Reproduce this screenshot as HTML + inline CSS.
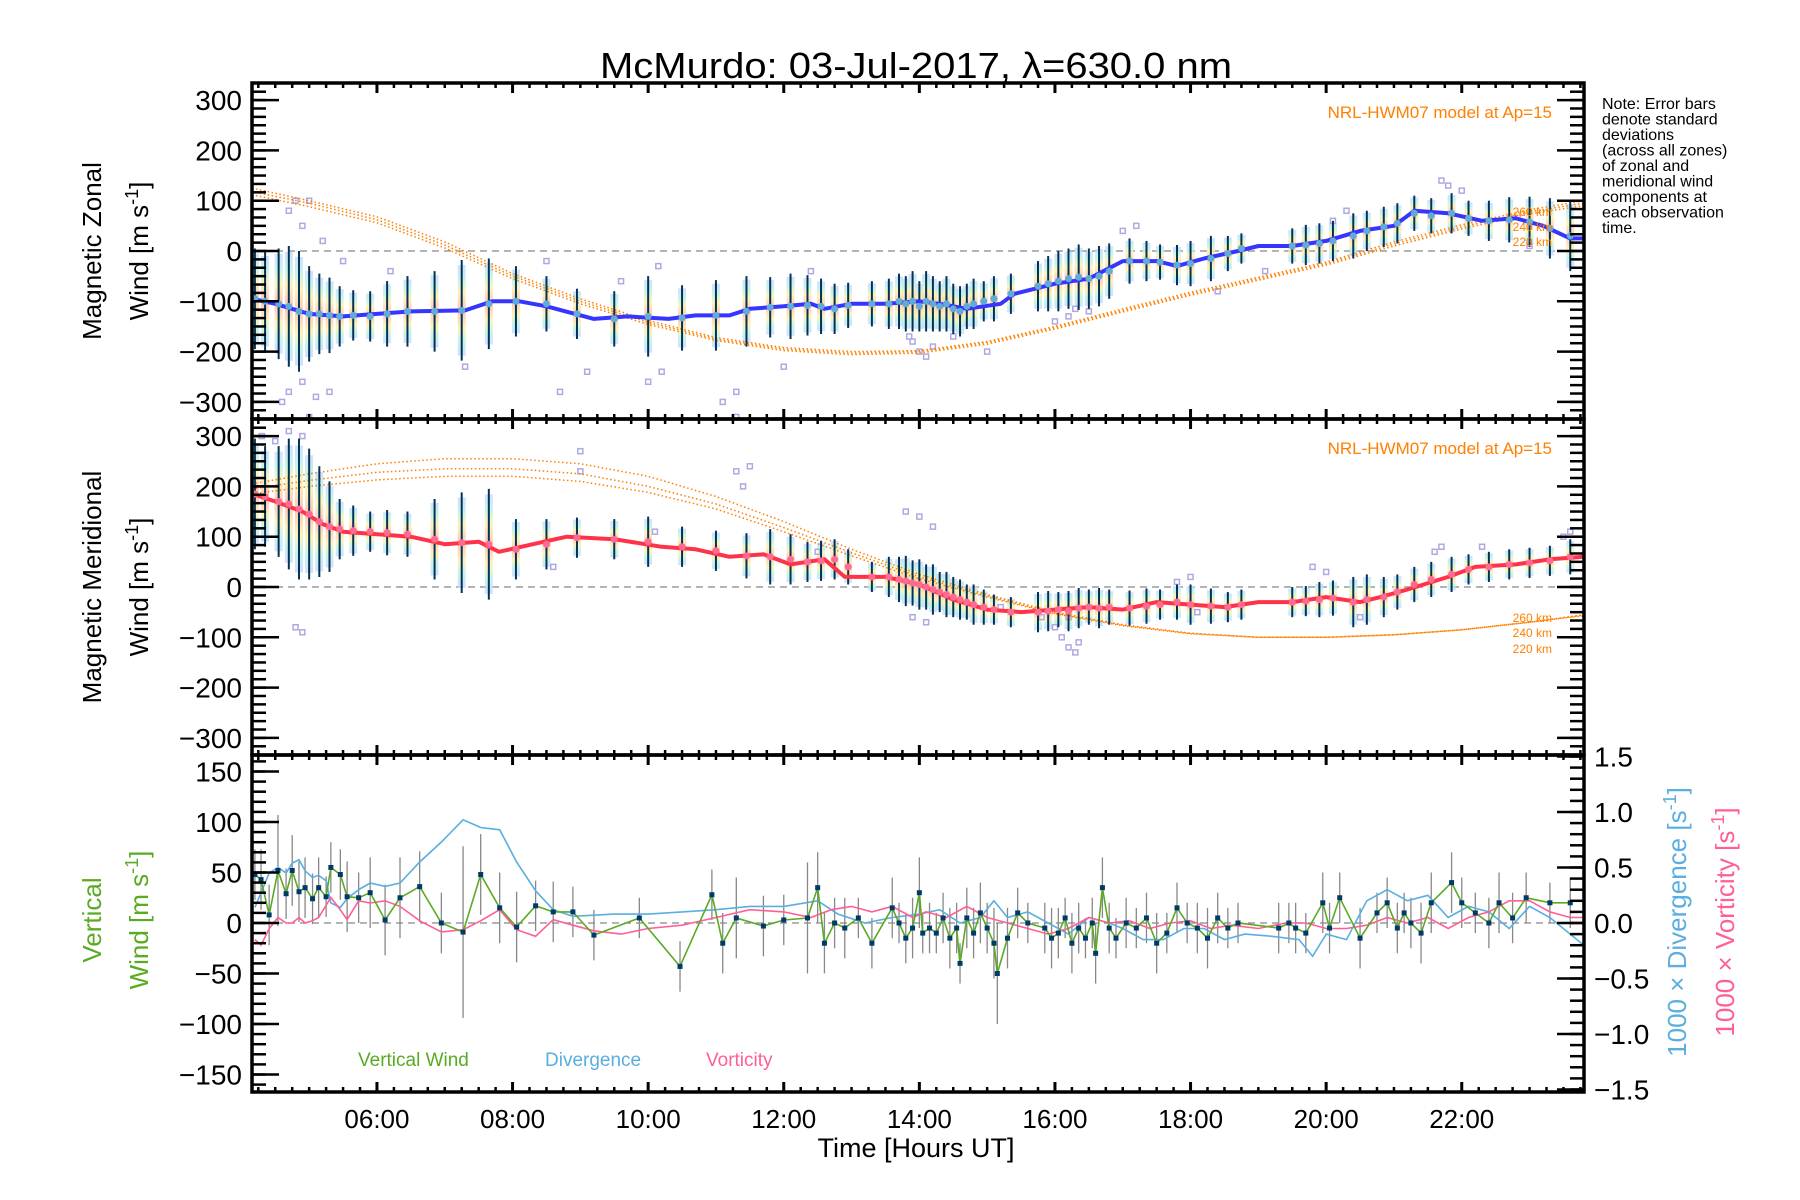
<!DOCTYPE html>
<html><head><meta charset="utf-8"><style>
html,body{margin:0;padding:0;background:#fff;}
svg{display:block;font-family:"Liberation Sans",sans-serif;}
</style></head><body>
<svg id="chart" xmlns="http://www.w3.org/2000/svg" width="1800" height="1200" viewBox="0 0 1800 1200">
<rect x="0" y="0" width="1800" height="1200" fill="#fff"/>
<text x="916" y="78" font-size="36" text-anchor="middle" textLength="632" lengthAdjust="spacingAndGlyphs">McMurdo: 03-Jul-2017, λ=630.0 nm</text>
<g id="layer"></g>
</svg>
<script>
// ---------- data ----------
const obsT  = [4.20,4.35,4.55,4.70,4.85,5.00,5.15,5.30,5.45,5.65,5.90,6.15,6.45,6.85,7.25,7.65,8.05,8.50,8.95,9.50,10.00,10.50,11.00,11.45,11.80,12.10,12.35,12.55,12.75,12.95,13.30,13.55,13.70,13.80,13.90,14.00,14.10,14.20,14.30,14.40,14.50,14.60,14.70,14.80,14.95,15.10,15.35,15.75,15.90,16.05,16.20,16.35,16.50,16.65,16.80,17.10,17.35,17.55,17.80,18.00,18.30,18.55,18.75,19.50,19.70,19.90,20.10,20.40,20.60,20.85,21.05,21.30,21.55,21.85,22.10,22.40,22.70,23.00,23.30,23.60];
const zonalMean = [-95,-100,-105,-110,-120,-125,-125,-128,-130,-128,-130,-125,-120,-120,-118,-105,-100,-105,-125,-135,-130,-133,-128,-120,-112,-110,-108,-110,-115,-108,-105,-105,-100,-105,-100,-110,-100,-105,-110,-105,-115,-120,-110,-105,-100,-95,-85,-70,-65,-60,-55,-52,-55,-50,-40,-20,-20,-22,-28,-25,-15,-5,5,10,12,15,20,30,40,48,55,75,70,75,65,60,62,58,45,30];
const zonalSd = [100,100,110,120,120,95,80,75,60,50,50,65,70,80,100,90,70,55,50,55,80,65,70,70,60,65,60,55,50,45,45,50,55,55,60,50,60,55,50,55,50,50,45,50,40,45,40,50,55,60,60,65,60,60,55,45,40,35,40,45,45,35,30,35,40,40,40,45,40,40,40,35,35,40,35,40,45,50,60,70];
const meridMean = [185,180,170,165,155,145,130,120,115,112,110,108,105,95,88,85,75,85,98,95,90,80,72,62,60,55,50,52,55,40,20,20,15,12,8,5,0,-5,-10,-15,-20,-25,-30,-35,-40,-45,-50,-50,-48,-45,-48,-42,-40,-42,-40,-42,-38,-35,-30,-35,-38,-40,-35,-30,-28,-25,-22,-30,-25,-20,-10,5,15,25,35,40,45,48,52,60];
const meridSd = [110,100,110,130,140,130,110,90,60,50,40,45,45,80,100,110,60,50,40,40,50,40,40,45,55,50,40,40,40,35,30,40,45,50,45,50,45,50,40,45,40,40,35,40,35,30,30,40,40,35,40,40,35,40,35,35,35,30,35,40,35,30,30,30,30,35,35,50,50,40,35,35,35,35,30,30,30,30,30,35];

const lineT = [4.157,4.5,5.0,5.5,6.0,6.5,7.3,7.7,8.1,8.5,9.2,9.7,10.3,10.7,11.2,11.5,12.0,12.4,12.6,13.0,13.5,14.0,14.3,14.7,15.2,15.4,16.0,16.5,17.0,17.5,17.8,18.2,18.7,19.0,19.5,20.0,20.5,21.0,21.3,21.8,22.3,22.8,23.2,23.6,23.8];
const zonalLine = [-95,-105,-125,-130,-125,-120,-118,-100,-100,-110,-135,-130,-135,-128,-128,-115,-110,-105,-115,-105,-105,-100,-105,-115,-105,-85,-65,-55,-20,-20,-30,-15,0,10,10,20,40,50,80,75,60,65,50,25,25];
const meridLineT = [4.157,4.5,4.9,5.2,5.5,6.0,6.5,7.0,7.5,7.8,8.3,8.8,9.5,10.2,10.7,11.2,11.7,12.1,12.6,12.9,13.5,14.0,14.5,15.0,15.5,16.0,16.5,17.0,17.5,18.0,18.5,19.0,19.5,20.0,20.5,20.8,21.2,21.8,22.2,22.8,23.3,23.8];
const meridLine = [185,170,150,125,110,105,100,85,90,70,85,100,95,80,75,60,65,45,55,20,20,5,-25,-45,-50,-45,-40,-45,-30,-35,-40,-30,-30,-20,-30,-20,-5,20,40,45,55,60];

const hwmT = [4.157,5,6,7,8,9,10,11,12,13,14,15,16,17,18,19,20,21,22,23,23.8];
const hwmZ260 = [125,100,68,18,-45,-95,-138,-172,-192,-200,-198,-180,-150,-115,-82,-52,-22,18,52,82,100];
const hwmZ240 = [118,95,62,12,-50,-100,-142,-175,-195,-203,-200,-182,-152,-118,-85,-55,-25,14,48,78,95];
const hwmZ220 = [112,88,56,6,-55,-105,-146,-178,-198,-206,-203,-185,-155,-121,-88,-58,-28,10,44,74,90];
const hwmM260 = [205,225,245,255,255,245,220,180,130,75,25,-15,-50,-75,-92,-100,-100,-95,-85,-70,-55];
const hwmM240 = [195,212,228,235,235,225,200,165,118,68,20,-18,-52,-76,-92,-100,-100,-95,-85,-70,-56];
const hwmM220 = [185,200,213,220,220,210,188,155,110,62,16,-20,-53,-77,-93,-100,-100,-95,-85,-70,-57];

const scatZT = [4.6,4.7,4.9,5.0,5.1,5.3,4.7,4.8,4.9,5.0,5.2,7.3,8.5,8.7,9.1,10.0,10.15,10.2,11.1,11.3,11.3,12.0,13.9,14.0,14.1,13.85,14.2,16.0,16.2,16.3,16.5,17.0,17.2,18.4,20.1,20.3,21.7,21.8,22.0,5.5,6.2,9.6,12.4,14.5,15.0,19.1,23.0];
const scatZV = [-300,-280,-260,-330,-290,-280,80,100,50,100,20,-230,-20,-280,-240,-260,-30,-240,-300,-330,-280,-230,-180,-200,-210,-170,-190,-140,-130,-115,-120,40,50,-80,60,80,140,130,120,-20,-40,-60,-40,-170,-200,-40,10];
const scatMT = [4.3,4.5,4.7,4.9,4.8,4.9,9.0,9.0,11.3,11.5,11.4,13.8,14.0,14.2,13.9,14.1,16.0,16.1,16.2,16.3,16.35,16.2,15.8,17.8,18.0,18.1,19.8,20.0,21.6,21.7,22.3,23.5,23.6,20.5,8.6,10.1,12.5,15.2];
const scatMV = [300,290,310,300,-80,-90,270,230,230,240,200,150,140,120,-60,-70,-80,-100,-120,-130,-110,-60,-60,10,20,-50,40,30,70,80,80,100,110,-60,40,110,70,-40];

const vwT = [4.2,4.29,4.41,4.54,4.66,4.75,4.85,4.94,5.05,5.14,5.25,5.32,5.46,5.56,5.73,5.9,6.12,6.34,6.63,6.95,7.27,7.53,7.81,8.06,8.34,8.6,8.89,9.2,9.87,10.47,10.94,11.1,11.3,11.7,12.0,12.35,12.5,12.6,12.75,12.9,13.1,13.3,13.6,13.7,13.8,13.9,14.0,14.05,14.15,14.25,14.35,14.45,14.55,14.6,14.7,14.8,14.9,15.0,15.1,15.15,15.3,15.45,15.6,15.85,15.95,16.05,16.15,16.25,16.35,16.45,16.55,16.6,16.7,16.8,16.9,17.05,17.2,17.35,17.5,17.65,17.8,17.95,18.1,18.25,18.4,18.55,18.7,19.3,19.45,19.55,19.7,19.95,20.05,20.2,20.5,20.75,20.9,21.05,21.15,21.25,21.4,21.55,21.85,22.0,22.2,22.4,22.55,22.75,22.95,23.3,23.6];
const vwV = [48,43,8,52,29,52,31,35,24,35,26,55,48,26,25,30,3,25,36,0,-9,48,15,-4,17,11,11,-12,5,-43,28,-20,5,-3,3,5,35,-20,0,-5,5,-20,15,0,-15,-5,30,-10,-5,-10,5,-15,-5,-40,5,-10,10,-5,-20,-50,-15,10,0,-5,-15,-10,5,-20,-5,-15,0,-30,35,-5,-15,0,-5,5,-20,-10,15,0,-5,-15,5,-5,0,-5,0,-5,-10,20,-5,25,-15,10,20,-5,10,0,-10,20,40,20,10,0,20,5,25,20,20];
const vwErr = [25,30,30,55,25,35,30,30,25,30,20,25,25,35,25,35,35,40,35,30,85,40,35,35,25,30,25,25,20,25,25,30,40,30,25,55,35,30,25,30,20,25,30,20,25,30,35,20,25,20,25,30,25,20,30,25,30,25,35,50,30,25,20,25,30,25,20,30,25,20,25,30,30,25,20,25,20,25,30,20,25,20,25,30,25,20,20,25,20,25,20,30,25,25,30,20,25,25,20,25,30,30,30,25,20,25,30,25,25,20,25,25];

const divT = [4.2,4.41,4.54,4.66,4.75,4.85,4.94,5.05,5.14,5.25,5.32,5.46,5.56,5.73,5.9,6.12,6.34,6.63,6.95,7.27,7.53,7.81,8.06,8.34,8.6,8.89,9.2,9.5,10.0,10.5,11.0,11.5,12.0,12.5,12.8,13.2,13.6,14.0,14.3,14.6,14.9,15.1,15.3,15.6,15.9,16.2,16.5,16.8,17.0,17.3,17.6,17.9,18.2,18.5,18.8,19.2,19.6,19.8,20.0,20.3,20.6,20.9,21.2,21.5,21.8,22.1,22.4,22.7,23.0,23.3,23.8];
const divV = [0.14,0.45,0.5,0.45,0.54,0.57,0.47,0.41,0.43,0.38,0.18,0.14,0.22,0.3,0.36,0.33,0.36,0.55,0.73,0.93,0.86,0.84,0.55,0.29,0.12,0.06,0.07,0.08,0.08,0.1,0.12,0.15,0.15,0.2,0.08,0.0,0.05,0.08,0.12,0.0,0.05,0.2,0.05,0.1,0.0,-0.1,0.05,0.0,-0.05,-0.15,-0.15,-0.05,-0.05,-0.15,-0.1,-0.12,-0.15,-0.3,-0.1,-0.15,0.2,0.3,0.2,0.25,0.05,0.15,0.1,-0.05,0.15,0.05,-0.2];
const vortT = [4.2,4.29,4.41,4.54,4.66,4.75,4.85,4.94,5.05,5.14,5.32,5.46,5.56,5.73,5.9,6.12,6.34,6.63,6.95,7.27,7.53,7.81,8.06,8.34,8.6,8.89,9.2,9.6,10.0,10.5,11.0,11.5,12.0,12.4,12.7,13.0,13.3,13.6,13.9,14.1,14.4,14.7,15.0,15.3,15.6,15.9,16.2,16.5,16.8,17.1,17.4,17.7,18.0,18.3,18.6,19.0,19.4,19.7,20.0,20.3,20.6,20.9,21.2,21.5,21.8,22.1,22.4,22.7,23.0,23.3,23.6,23.8];
const vortV = [-0.15,-0.2,-0.05,0.05,0.0,0.0,0.05,0.0,0.02,0.05,0.23,0.12,0.03,0.2,0.18,0.2,0.15,0.02,-0.08,-0.06,0.02,0.12,-0.06,-0.12,0.03,-0.02,-0.07,-0.1,-0.05,-0.02,0.05,0.12,0.1,0.05,0.12,0.15,0.1,0.15,0.05,0.1,0.05,0.15,0.05,0.0,-0.05,-0.1,-0.05,0.05,0.0,0.02,-0.05,0.0,0.02,-0.05,-0.02,-0.05,0.0,0.0,-0.05,-0.05,-0.02,0.05,0.0,0.05,-0.05,0.05,0.1,0.2,0.2,0.1,0.05,0.05];

const majorYTicks = [-300,-200,-100,0,100,200,300];
const majorVTicks = [-150,-100,-50,0,50,100,150];
const rightTicks = [-1.5,-1.0,-0.5,0.0,0.5,1.0,1.5];
const xTickHours = [6,8,10,12,14,16,18,20,22];
const xTickLabels = ["06:00","08:00","10:00","12:00","14:00","16:00","18:00","20:00","22:00"];

// ---------- geometry ----------
const L=252, R=1584;
const P1={top:83,bot:419,y0:251,k:0.503};
const P2={top:419,bot:755,y0:587,k:0.503};
const P3={top:755,bot:1092,y0:923,k:1.01};
const RK=111;
const X=h=>L+(h-4.157)*67.8;
const Y=(p,v)=>p.y0-v*p.k;
const YR=v=>P3.y0-v*RK;
const NS='http://www.w3.org/2000/svg';
const layer=document.getElementById('layer');
function mk(tag,attrs,parent){const e=document.createElementNS(NS,tag);for(const k in attrs)e.setAttribute(k,attrs[k]);(parent||layer).appendChild(e);return e;}
function grp(name){const g=mk('g',{});return g;}
function clipFor(p,id){const c=mk('clipPath',{id:id});mk('rect',{x:L,y:p.top,width:R-L,height:p.bot-p.top},c);}
clipFor(P1,'c1');clipFor(P2,'c2');clipFor(P3,'c3');
function pts(ts,vs,f){return ts.map((t,i)=>X(t).toFixed(1)+','+f(vs[i]).toFixed(1)).join(' ');}

// gradient for pastel bars
const defs=mk('defs',{});
const lg=mk('linearGradient',{id:'pastel',x1:0,y1:0,x2:0,y2:1},defs);
[['0','#c8d8ff'],['0.15','#b8f0e8'],['0.3','#fff0a8'],['0.5','#ffb8a8'],['0.7','#fff0a8'],['0.85','#b8f0e8'],['1','#c8d8ff']].forEach(s=>mk('stop',{offset:s[0],'stop-color':s[1]},lg));

function windPanel(p,clip,meanArr,sdArr,scT,scV,lT,lV,lineCol,dotCol,hw,name){
  const g=grp(name+'-plot');g.setAttribute('clip-path','url(#'+clip+')');
  mk('line',{x1:L,x2:R,y1:p.y0,y2:p.y0,stroke:'#888','stroke-dasharray':'7 5','stroke-width':1.3},g);
  obsT.forEach((t,i)=>{
    const r=mk('rect',{x:X(t)-4,y:Y(p,meanArr[i]+sdArr[i]*0.9),width:8,height:sdArr[i]*1.8*p.k,fill:'url(#pastel)',opacity:0.8},g);
    
    
  });
  scT.forEach((t,i)=>{
    const s=mk('rect',{x:X(t)-2.5,y:Y(p,scV[i])-2.5,width:5,height:5,fill:'none',stroke:'#b0a8e0','stroke-width':1.5},g);
    
    
  });
  const hc=['#ff8000','#ff8000','#ff8000'];
  hw.forEach((arr,j)=>{
    const pl=mk('polyline',{points:pts(hwmT,arr,v=>Y(p,v)),fill:'none',stroke:hc[j],'stroke-width':1.5,'stroke-dasharray':'1.5 2.5'},g);
    
    
  });
  obsT.forEach((t,i)=>{
    const e=mk('line',{x1:X(t),x2:X(t),y1:Y(p,meanArr[i]+sdArr[i]),y2:Y(p,meanArr[i]-sdArr[i]),stroke:'#003355','stroke-width':2},g);
    
    
  });
  const ml=mk('polyline',{points:pts(lT,lV,v=>Y(p,v)),fill:'none',stroke:lineCol,'stroke-width':4,'stroke-linejoin':'round'},g);
  
  
  obsT.forEach((t,i)=>{
    const d=mk('circle',{cx:X(t),cy:Y(p,meanArr[i]),r:3.5,fill:dotCol},g);
    
    
  });
}
windPanel(P1,'c1',zonalMean,zonalSd,scatZT,scatZV,lineT,zonalLine,'#3535ff','#60acd8',[hwmZ260,hwmZ240,hwmZ220],'zonal');
windPanel(P2,'c2',meridMean,meridSd,scatMT,scatMV,meridLineT,meridLine,'#ff3348','#ff6a90',[hwmM260,hwmM240,hwmM220],'meridional');

// panel 3
const g3=grp('vertical-plot');g3.setAttribute('clip-path','url(#c3)');
mk('line',{x1:L,x2:R,y1:P3.y0,y2:P3.y0,stroke:'#888','stroke-dasharray':'7 5','stroke-width':1.3},g3);
vwT.forEach((t,i)=>{
  const e=mk('line',{x1:X(t),x2:X(t),y1:Y(P3,vwV[i]+vwErr[i]),y2:Y(P3,vwV[i]-vwErr[i]),stroke:'#888','stroke-width':1.3},g3);
  
  
});
const dl=mk('polyline',{points:pts(divT,divV,YR),fill:'none',stroke:'#5aaee0','stroke-width':1.6},g3);


const vl=mk('polyline',{points:pts(vortT,vortV,YR),fill:'none',stroke:'#ff5f95','stroke-width':1.6},g3);


const wl=mk('polyline',{points:pts(vwT,vwV,v=>Y(P3,v)),fill:'none',stroke:'#5aaa22','stroke-width':1.6},g3);


vwT.forEach((t,i)=>{
  const s=mk('rect',{x:X(t)-2.5,y:Y(P3,vwV[i])-2.5,width:5,height:5,fill:'#003a66'},g3);
  
  
});

// axes
const ax=grp('axes');
function txt(x,y,s,attrs,parent,name){const t=mk('text',Object.assign({x:x,y:y},attrs),parent||ax);t.textContent=s;return t;}
function fmt(v){return (v<0?'\u2212':'')+Math.abs(v);}
function panelFrame(p,majors,minorStep,name,rightMajors){
  mk('rect',{x:L,y:p.top,width:R-L,height:p.bot-p.top,fill:'none',stroke:'#000','stroke-width':3.5},ax);
  const lo=-(p.y0-p.top)/p.k, hi=(p.y0-p.top)/p.k;
  for(let v=Math.ceil(lo/minorStep)*minorStep; v<=hi; v+=minorStep){
    const y=Y(p,v); if(y<p.top+1||y>p.bot-1) continue;
    mk('line',{x1:L,x2:L+14,y1:y,y2:y,stroke:'#000','stroke-width':2.5},ax);
    if(!rightMajors) mk('line',{x1:R,x2:R-14,y1:y,y2:y,stroke:'#000','stroke-width':2.5},ax);
  }
  majors.forEach(v=>{
    const y=Y(p,v);
    mk('line',{x1:L,x2:L+27,y1:y,y2:y,stroke:'#000','stroke-width':2.5},ax);
    if(!rightMajors) mk('line',{x1:R,x2:R-27,y1:y,y2:y,stroke:'#000','stroke-width':2.5},ax);
    txt(242,y+10,fmt(v),{'font-size':28,'text-anchor':'end'},ax,name+'-y-tick-label');
  });
  for(let h=4.25;h<=23.8;h+=0.25){
    const maj=Math.abs(h/2-Math.round(h/2))<1e-6;
    const len=maj?10:5;
    mk('line',{x1:X(h),x2:X(h),y1:p.top,y2:p.top+len,stroke:'#000','stroke-width':maj?3:2.5},ax);
    mk('line',{x1:X(h),x2:X(h),y1:p.bot,y2:p.bot-len,stroke:'#000','stroke-width':maj?3:2.5},ax);
  }
}
panelFrame(P1,majorYTicks,100/6,'zonal');
panelFrame(P2,majorYTicks,100/6,'meridional');
panelFrame(P3,majorVTicks,10,'vertical',true);
// right axis panel 3
for(let v=-1.5;v<=1.501;v+=0.1){const y=YR(v);if(y<P3.top+1||y>P3.bot-1)continue;mk('line',{x1:R,x2:R-14,y1:y,y2:y,stroke:'#000','stroke-width':2.5},ax);}
rightTicks.forEach(v=>{const y=YR(v);mk('line',{x1:R,x2:R-27,y1:y,y2:y,stroke:'#000','stroke-width':2.5},ax);
  txt(1594,y+10,(v<0?'\u2212':'')+Math.abs(v).toFixed(1),{'font-size':28},ax,'right-y-tick-label');});
// x labels
xTickHours.forEach((h,i)=>txt(X(h),1128,xTickLabels[i],{'font-size':26,'text-anchor':'middle'},ax,'x-tick-label'));
txt(916,1157,'Time [Hours UT]',{'font-size':27,'text-anchor':'middle'},ax,'x-axis-title');

// y titles
function vtitle(x,y,s,col,name){const t=txt(0,0,s,{'font-size':26,'text-anchor':'middle',fill:col,transform:'translate('+x+','+y+') rotate(-90)'},ax,name);return t;}
vtitle(101,251,'Magnetic Zonal','#000','zonal-y-title-1');
const wz=vtitle(148,251,'Wind [m s','#000','zonal-y-title-2');
const wm=vtitle(148,587,'Wind [m s','#000','meridional-y-title-2');
vtitle(101,587,'Magnetic Meridional','#000','meridional-y-title-1');
vtitle(101,920,'Vertical','#5aaa22','vertical-y-title-1');
const wv=vtitle(148,920,'Wind [m s','#5aaa22','vertical-y-title-2');
[wz,wm,wv].forEach(t=>{const a=mk('tspan',{dy:-10,'font-size':18},t);a.textContent='-1';const b=mk('tspan',{dy:10},t);b.textContent=']';});
const rd=vtitle(1686,922,'1000 × Divergence [s','#5aaee0','divergence-axis-title');
const rv=vtitle(1734,922,'1000 × Vorticity [s','#ff5f95','vorticity-axis-title');
[rd,rv].forEach(t=>{const a=mk('tspan',{dy:-10,'font-size':18},t);a.textContent='-1';const b=mk('tspan',{dy:10},t);b.textContent=']';});

// annotations
txt(1552,118,'NRL-HWM07 model at Ap=15',{'font-size':17,'text-anchor':'end',fill:'#ff8000'},ax,'zonal-hwm-label');
txt(1552,454,'NRL-HWM07 model at Ap=15',{'font-size':17,'text-anchor':'end',fill:'#ff8000'},ax,'meridional-hwm-label');
[['260 km',216],['240 km',231],['220 km',246]].forEach(a=>txt(1552,a[1],a[0],{'font-size':12,'text-anchor':'end',fill:'#ff8000'},ax,'zonal-altitude-label'));
[['260 km',622],['240 km',637],['220 km',653]].forEach(a=>txt(1552,a[1],a[0],{'font-size':12,'text-anchor':'end',fill:'#ff8000'},ax,'meridional-altitude-label'));
['Note: Error bars','denote standard','deviations','(across all zones)','of zonal and','meridional wind','components at','each observation','time.'].forEach((s,i)=>txt(1602,109+i*15.5,s,{'font-size':16},ax,'note-text-line'));
txt(358,1066,'Vertical Wind',{'font-size':19,fill:'#5aaa22'},ax,'legend-vertical-wind');
txt(545,1066,'Divergence',{'font-size':19,fill:'#5aaee0'},ax,'legend-divergence');
txt(706,1066,'Vorticity',{'font-size':19,fill:'#ff5f95'},ax,'legend-vorticity');
</script>
</body></html>
